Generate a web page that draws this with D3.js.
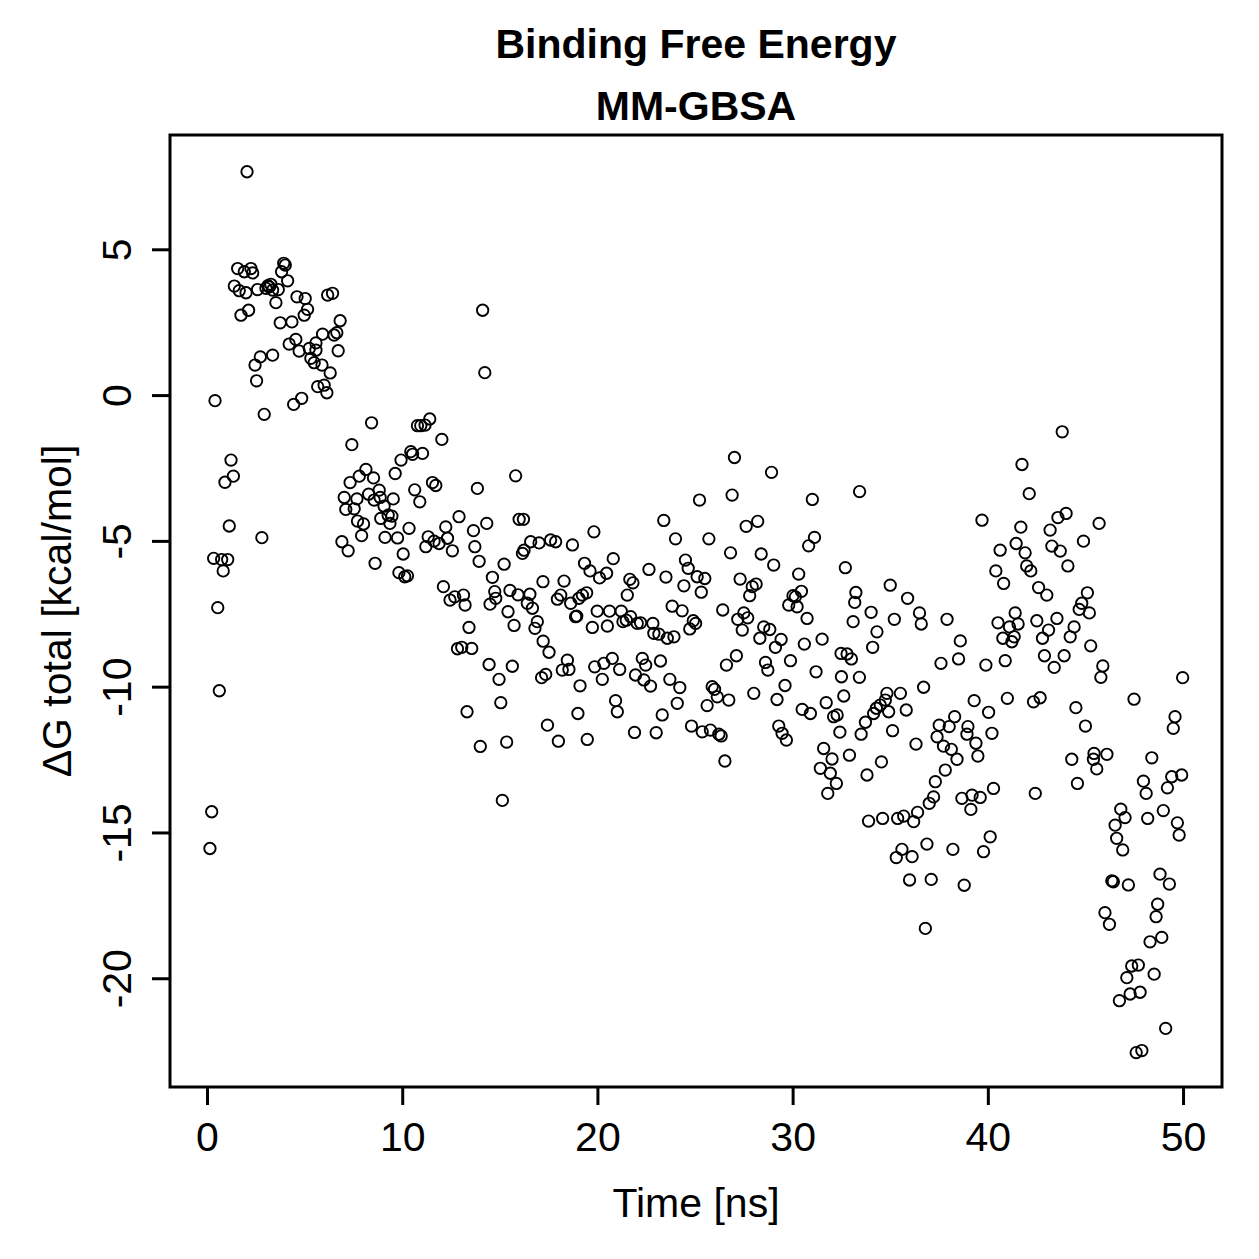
<!DOCTYPE html>
<html><head><meta charset="utf-8">
<script src="https://cdn.jsdelivr.net/npm/d3@7"></script>
<style>html,body{margin:0;padding:0;background:#fff;} svg{display:block;}</style>
</head><body>
<script>
const titleLines = ["Binding Free Energy", "MM-GBSA"];
const xLabel = "Time [ns]";
const yLabel = "ΔG total [kcal/mol]";
const xTicks = [0, 10, 20, 30, 40, 50];
const yTicks = [5, 0, -5, -10, -15, -20];

const time = [
0.15,0.24,0.34,0.41,0.55,0.63,0.75,0.83,0.92,1.06,1.14,1.23,1.35,1.4,1.57,1.65,1.74,1.91,2.0,2.05,
2.13,2.25,2.34,2.46,2.54,2.59,2.73,2.81,2.93,3.02,3.12,3.19,3.27,3.36,3.36,3.53,3.65,3.75,3.82,3.93,
4.01,4.13,4.21,4.35,4.44,4.55,4.61,4.72,4.85,4.98,5.03,5.15,5.24,5.32,5.49,5.58,5.58,5.67,5.89,5.92,
6.0,6.14,6.18,6.31,6.43,6.51,6.65,6.72,6.82,
6.91,7.03,7.11,7.23,7.33,7.42,7.54,7.68,7.71,7.8,7.92,8.02,8.14,8.28,8.43,8.53,8.56,8.61,8.82,8.87,
8.9,9.07,9.12,9.28,9.37,9.47,9.54,9.64,9.76,9.83,9.94,10.05,10.13,10.27,10.35,10.44,10.53,10.64,10.78,10.9,
10.95,11.04,11.17,11.21,11.33,11.41,11.55,11.63,11.72,11.89,12.03,12.11,12.23,12.32,12.45,12.57,12.69,12.83,12.91,13.05,
13.14,13.22,13.32,13.42,13.56,13.65,13.72,13.85,13.94,
14.0,14.12,14.23,14.33,14.45,14.5,14.62,14.74,14.79,14.96,15.05,15.13,15.22,15.35,15.42,15.52,15.64,15.73,15.81,15.93,
15.99,16.16,16.21,16.24,16.41,16.54,16.58,16.67,16.8,16.92,17.01,17.14,17.21,17.22,17.35,17.44,17.52,17.6,17.86,17.95,
18.0,18.12,18.2,18.29,18.46,18.54,18.63,18.72,18.88,18.94,19.0,19.05,19.11,19.23,19.34,19.45,19.48,19.62,19.74,19.82,
19.86,19.99,20.11,20.25,20.33,20.47,20.51,20.62,20.76,20.81,20.93,21.02,21.14,21.22,21.31,21.48,21.53,21.66,21.7,21.82,
21.9,21.95,22.04,22.21,22.3,22.38,22.47,22.64,22.72,22.84,22.89,23.01,23.15,23.23,23.32,23.4,
23.51,23.58,23.71,23.83,23.92,24.0,24.09,24.22,24.34,24.43,24.51,24.65,24.73,24.82,24.91,25.03,25.11,25.23,25.32,25.37,
25.5,25.62,25.71,25.79,25.88,26.0,26.14,26.22,26.34,26.42,26.53,26.61,26.73,26.82,26.9,27.02,27.12,27.19,27.31,27.42,
27.5,27.62,27.7,27.8,27.93,28.01,28.13,28.21,28.32,28.39,28.52,28.61,28.73,28.83,28.92,29.03,29.12,29.2,29.29,29.41,
29.46,29.61,29.68,29.8,29.89,30.02,30.14,30.23,30.31,30.45,30.49,30.6,30.74,30.82,30.91,31.01,31.12,31.2,31.42,31.51,
31.59,31.72,31.8,31.93,32.02,32.1,32.24,32.28,32.42,32.48,32.5,32.62,32.7,32.79,32.91,33.01,33.1,33.18,33.24,33.43,
33.42,33.51,33.73,33.81,33.89,34.02,34.1,34.15,34.29,34.32,34.49,34.55,34.61,34.75,34.83,34.92,35.0,35.12,35.21,35.31,
35.38,35.52,35.6,35.69,35.82,35.89,35.99,36.12,36.2,36.32,36.4,36.5,36.59,36.71,36.8,36.88,37.0,37.1,37.22,37.31,
37.4,37.51,37.6,37.73,37.82,37.91,38.02,38.13,38.21,38.3,38.42,38.5,38.59,38.67,38.79,38.93,38.98,39.13,39.19,39.3,
39.39,39.49,39.61,39.7,39.78,39.9,40.04,40.12,40.21,40.29,40.41,40.52,40.63,40.77,40.81,40.89,41.0,41.11,41.23,41.35,
41.4,41.45,41.55,41.69,41.75,41.91,41.99,42.12,42.2,42.34,42.43,42.51,42.6,42.68,42.8,42.9,43.02,43.11,43.19,43.28,
43.4,43.54,43.59,43.71,43.81,43.91,44.01,44.1,44.22,44.3,44.42,44.51,44.59,44.68,44.81,44.9,45.0,45.1,45.2,45.27,
45.41,45.44,45.58,45.7,45.79,45.89,46.0,46.1,46.23,46.35,46.43,46.52,46.6,46.74,46.81,46.91,47.03,47.12,47.2,47.29,
47.37,47.49,47.6,47.71,47.8,47.89,47.97,48.11,48.19,48.31,48.4,48.52,48.62,48.7,48.82,48.91,48.99,49.11,49.2,49.3,
49.42,49.5,49.59,49.71,49.8,49.93,49.98
];

const dG = [
-15.55,-14.29,-5.6,-0.19,-7.29,-10.14,-5.64,-6.03,-2.99,-5.64,-4.49,-2.23,-2.78,3.74,4.34,3.58,2.74,4.23,3.51,7.66,
2.91,4.34,4.19,1.03,0.49,3.62,1.31,-4.89,-0.66,3.66,3.75,3.71,3.8,3.6,1.37,3.17,3.62,2.48,4.23,4.52,
4.46,3.92,1.75,2.51,-0.32,1.91,3.37,1.51,-0.11,2.74,3.31,2.94,1.6,1.26,1.11,1.79,1.54,0.29,1.03,2.09,
0.34,0.08,3.43,0.76,3.49,2.06,2.14,1.52,2.55,
-5.03,-3.51,-3.92,-5.34,-3.0,-1.7,-3.9,-3.56,-4.32,-2.78,-4.82,-4.42,-2.55,-3.4,-0.95,-2.84,-3.6,-5.77,-3.26,-3.51,
-4.23,-3.81,-4.88,-4.12,-4.4,-4.15,-3.56,-2.69,-4.9,-6.09,-2.23,-5.45,-6.23,-6.2,-4.57,-1.94,-2.03,-3.25,-1.05,-3.66,
-1.05,-2.0,-1.03,-5.2,-4.86,-0.82,-3.0,-5.01,-3.1,-5.09,-1.52,-6.57,-4.52,-4.91,-7.03,-5.34,-6.92,-8.7,-4.17,-8.65,
-6.86,-7.2,-10.86,-7.97,-8.69,-4.65,-5.2,-3.2,-5.7,
-12.05,2.91,0.77,-4.4,-9.24,-7.17,-6.25,-6.74,-6.97,-9.75,-10.55,-13.9,-5.8,-11.9,-7.43,-6.7,-9.3,-7.9,-2.77,-6.85,
-4.26,-5.43,-4.26,-5.32,-7.14,-6.83,-5.03,-7.31,-8.0,-7.77,-5.07,-9.69,-6.4,-8.44,-9.58,-11.32,-8.82,-4.97,-5.03,-7.0,
-11.87,-6.86,-9.43,-6.38,-9.09,-9.41,-7.14,-5.14,-7.6,-7.58,-10.92,-6.97,-9.97,-6.86,-5.77,-6.78,-11.81,-6.03,-7.97,-4.69,
-9.32,-7.41,-6.27,-9.75,-9.2,-6.11,-7.92,-7.41,-9.03,-5.61,-10.48,-10.86,-9.41,-7.41,-7.77,-7.72,-6.86,-6.32,-7.6,-6.44,
-11.57,-9.6,-7.83,-7.81,-9.03,-9.77,-9.26,-5.98,-9.98,-7.83,-8.17,-11.58,-8.2,-9.12,-10.97,-4.3,
-6.24,-8.34,-9.75,-7.24,-8.29,-4.93,-10.57,-10.03,-7.4,-6.54,-5.66,-5.94,-8.02,-11.35,-7.74,-7.83,-6.23,-3.6,-6.76,-11.55,
-6.29,-10.65,-4.93,-11.49,-10.0,-10.09,-10.35,-11.63,-11.69,-7.37,-12.55,-9.26,-10.46,-5.41,-3.43,-2.14,-8.94,-7.69,-6.31,-8.06,
-7.47,-4.5,-7.64,-6.88,-6.57,-10.23,-6.48,-4.33,-8.34,-5.45,-7.95,-9.17,-9.43,-8.04,-2.65,-5.83,-8.65,-10.44,-11.35,-8.38,
-11.6,-9.96,-11.83,-7.2,-9.11,-6.88,-6.92,-7.26,-6.14,-6.73,-10.78,-8.54,-7.66,-5.17,-10.92,-3.58,-4.88,-9.49,-12.8,-8.37,
-12.12,-10.55,-13.66,-12.97,-12.48,-11.03,-13.32,-10.97,-11.56,-8.86,-9.66,-10.32,-5.92,-8.88,-12.35,-9.05,-7.77,-7.11,-6.77,-3.31,
-9.68,-11.63,-11.22,-13.03,-14.61,-7.45,-8.65,-10.92,-10.74,-8.12,-10.63,-12.58,-14.52,-10.46,-10.23,-10.86,-6.52,-11.51,-7.69,-15.86,
-14.52,-10.23,-15.58,-14.44,-10.8,-6.97,-16.63,-15.83,-14.63,-11.97,-14.31,-7.47,-7.85,-10.02,-18.29,-15.4,-14.0,-16.61,-13.78,-13.26,
-11.72,-11.32,-9.2,-12.04,-12.86,-7.69,-11.37,-12.15,-15.58,-11.03,-12.49,-9.05,-8.43,-13.83,-16.81,-11.63,-11.37,-14.21,-13.72,-10.48,
-11.94,-12.38,-13.8,-4.29,-15.66,-9.26,-10.88,-15.15,-11.6,-13.49,-6.03,-7.81,-5.32,-8.34,-6.46,-9.11,-10.4,-7.95,-8.46,-8.29,
-7.47,-5.09,-7.85,-4.53,-2.38,-5.41,-5.86,-3.38,-6.03,-10.52,-13.66,-7.74,-6.6,-10.38,-8.34,-8.94,-6.86,-8.06,-4.63,-5.18,
-9.34,-7.66,-4.2,-5.35,-1.26,-8.94,-4.06,-5.86,-8.29,-12.49,-7.95,-10.72,-13.32,-7.35,-7.14,-5.01,-11.35,-6.78,-7.47,-8.6,
-12.49,-12.29,-12.82,-4.4,-9.68,-9.29,-17.75,-12.32,-18.15,-16.66,-16.69,-14.75,-15.2,-20.77,-14.2,-15.6,-14.49,-19.98,-16.8,-20.54,
-19.58,-10.43,-22.55,-19.55,-20.48,-22.48,-13.24,-13.66,-14.52,-18.75,-12.44,-19.86,-17.89,-17.46,-16.43,-18.6,-14.25,-21.72,-13.47,-16.77,
-13.09,-11.43,-11.03,-14.67,-15.09,-13.03,-9.69
];

const W = 1259, H = 1259;
const mLeft = 170, mRight = 1222, mTop = 135, mBottom = 1087;
const font = "'Liberation Sans', Arial, Helvetica, sans-serif";
const plainFmt = d => String(d);

const svg = d3.select("body").append("svg").attr("width", W).attr("height", H);

const x = d3.scaleLinear().domain([-1.896, 51.996]).range([mLeft, mRight]);
const y = d3.scaleLinear().domain([-23.73, 8.92]).range([mBottom, mTop]);

const pts = time.map((t, i) => ({t, v: dG[i]}));

svg.append("g").selectAll("circle").data(pts).enter().append("circle")
  .attr("cx", d => x(d.t)).attr("cy", d => y(d.v)).attr("r", 5.7)
  .attr("fill", "none").attr("stroke", "#000").attr("stroke-width", 1.9);

svg.append("rect").attr("x", mLeft).attr("y", mTop)
  .attr("width", mRight - mLeft).attr("height", mBottom - mTop)
  .attr("fill", "none").attr("stroke", "#000").attr("stroke-width", 3);

const xAxis = svg.append("g").attr("transform", `translate(0,${mBottom})`)
  .call(d3.axisBottom(x).tickValues(xTicks).tickSize(18).tickSizeOuter(0).tickPadding(17).tickFormat(plainFmt));
xAxis.select(".domain").remove();
xAxis.selectAll("line").attr("stroke-width", 3);
xAxis.selectAll("text").attr("font-family", font).attr("font-size", 41).attr("fill", "#000");

const yAxis = svg.append("g").attr("transform", `translate(${mLeft},0)`)
  .call(d3.axisLeft(y).tickValues(yTicks).tickSize(18).tickSizeOuter(0).tickFormat(plainFmt));
yAxis.select(".domain").remove();
yAxis.selectAll("line").attr("stroke-width", 3);
yAxis.selectAll("text")
  .attr("x", null).attr("dy", null)
  .attr("transform", "translate(-39,0) rotate(-90)")
  .attr("text-anchor", "middle")
  .attr("font-family", font).attr("font-size", 41).attr("fill", "#000");

svg.append("text").attr("x", (mLeft + mRight) / 2).attr("y", 58)
  .attr("text-anchor", "middle").attr("font-family", font).attr("font-weight", "bold")
  .attr("font-size", 41).text(titleLines[0]);
svg.append("text").attr("x", (mLeft + mRight) / 2).attr("y", 120)
  .attr("text-anchor", "middle").attr("font-family", font).attr("font-weight", "bold")
  .attr("font-size", 41).text(titleLines[1]);

svg.append("text").attr("x", (mLeft + mRight) / 2).attr("y", 1217)
  .attr("text-anchor", "middle").attr("font-family", font).attr("font-size", 41).text(xLabel);

svg.append("text").attr("transform", `translate(71,${(mTop + mBottom) / 2}) rotate(-90)`)
  .attr("text-anchor", "middle").attr("font-family", font).attr("font-size", 41).text(yLabel);
</script>
</body></html>
